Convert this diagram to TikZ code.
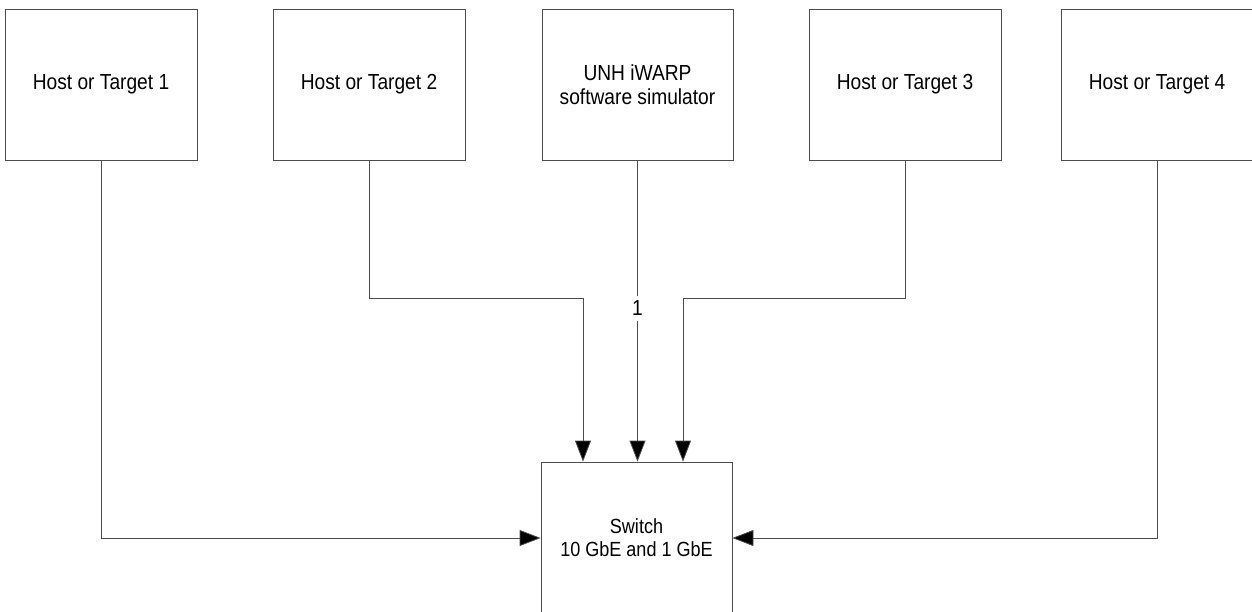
\documentclass[tikz,border=0pt]{standalone}
\usepackage{fontspec}
\setmainfont{Liberation Sans}[FakeStretch=0.88]
\usetikzlibrary{arrows.meta}
\tikzset{
  box/.style={draw=black!70, line width=0.8pt, rectangle, minimum width=192pt, minimum height=151pt,
    inner sep=0pt, align=center, font=\fontsize{21.8}{24}\selectfont, text=black},
  swbox/.style={box, minimum width=191pt, minimum height=152pt, font=\fontsize{20.5}{23}\selectfont},
  conn/.style={draw=black!70, line width=0.8pt},
  arr/.style={conn, -{Triangle[length=21pt,width=16pt,fill=black]}},
  lbl/.style={fill=white, inner xsep=2pt, inner ysep=5pt, font=\fontsize{21.8}{24}\selectfont, text=black}
}
\begin{document}
\begin{tikzpicture}[x=1pt,y=-1pt]
\useasboundingbox (0,0) rectangle (1252,611);
\node[box] (h1) at (101,84.5) {Host or Target 1};
\node[box] (h2) at (369,84.5) {Host or Target 2};
\node[box, minimum width=191pt] (sim) at (637.5,84.5) {UNH iWARP\\software simulator};
\node[box] (h3) at (905,84.5) {Host or Target 3};
\node[box] (h4) at (1157,84.5) {Host or Target 4};
\node[swbox] (sw) at (636.5,538) {Switch\\10 GbE and 1 GbE};
\coordinate (j2) at (583,298);
\coordinate (j3) at (683,298);
\draw[arr] (h1.south) |- (sw.west);
\draw[arr] (h2.south) |- (j2) -- (j2 |- sw.north);
\draw[arr] (sim.south) -- node[lbl, pos=0.491] (l1) {1} (sim.south |- sw.north);
\draw[arr] (h3.south) |- (j3) -- (j3 |- sw.north);
\draw[arr] (h4.south) |- (sw.east);
\end{tikzpicture}
\end{document}
